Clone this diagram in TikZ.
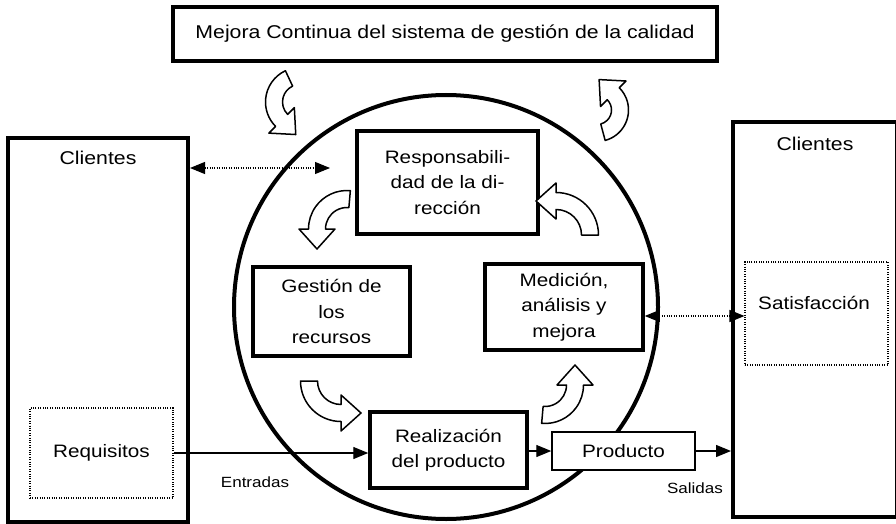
\documentclass[tikz,border=0pt]{standalone}
\usepackage{fontspec}
\setmainfont{Liberation Sans}[FakeStretch=1.15]
\usetikzlibrary{arrows.meta,calc}
\newcommand{\fsmain}{\fontsize{18}{25.5}\selectfont}
\newcommand{\fsbig}{\fontsize{18.5}{22}\selectfont}
\newcommand{\fssmall}{\fontsize{14.8}{18}\selectfont}
% curved hollow block arrow: cx, cy, R, start angle, end angle, sign (+1 angle grows, -1 angle falls)
\newcommand{\bentarrow}[6]{%
  \draw[barrow]
    ($(#1,#2)+(#4:{#3+8.5})$) arc[start angle=#4, end angle=#5, radius={#3+8.5}]
    -- ($(#1,#2)+(#5:{#3+18})$)
    -- ($(#1,#2)+(#5:#3)+({#5+#6*90}:20)$)
    -- ($(#1,#2)+(#5:{#3-18})$)
    -- ($(#1,#2)+(#5:{#3-8.5})$)
    arc[start angle=#5, end angle=#4, radius={#3-8.5}]
    -- cycle;}
\begin{document}
\begin{tikzpicture}[x=1pt,y=-1pt,
  bigbox/.style={draw, line width=4pt, inner sep=0pt},
  inbox/.style={draw, fill=white, line width=3.5pt, align=center, inner sep=0pt, font=\fsmain},
  dotbox/.style={draw, line width=1.1pt, dash pattern=on 1pt off 1.4pt, inner sep=0pt},
  conn/.style={line width=1.3pt, -{Triangle[length=15pt,width=12pt]}},
  dotconn/.style={line width=1.1pt, dash pattern=on 1pt off 1.4pt,
     {Triangle[length=15pt,width=12pt]}-{Triangle[length=15pt,width=12pt]}},
  barrow/.style={draw, fill=white, line width=1.5pt, line join=round}]
\fill[white] (0,0) rectangle (896,524);
\useasboundingbox (0,0) rectangle (896,524);

% top box
\node[bigbox, minimum width=544pt, minimum height=54pt, font=\fsbig] (top) at (445,34)
  {Mejora Continua del sistema de gestión de la calidad};

% client boxes
\node[bigbox, minimum width=180pt, minimum height=384pt] (lc) at (98,330) {};
\node[font=\fsbig] (lct) at (98,158) {Clientes};
\node[bigbox, minimum width=164pt, minimum height=395pt] (rc) at (815,319.5) {};
\node[font=\fsbig] (rct) at (815,144) {Clientes};

% circle
\node[circle, draw, line width=4pt, minimum size=424pt, inner sep=0pt] (circ) at (446,307) {};

% inner boxes
\node[inbox, minimum width=181pt, minimum height=103pt] (resp) at (447.5,182.5)
  {Responsabili-\\dad de la di-\\rección};
\node[inbox, minimum width=157pt, minimum height=89pt] (gest) at (331.5,311.5)
  {Gestión de\\los\\recursos};
\node[inbox, minimum width=158pt, minimum height=86pt] (med) at (564,307)
  {Medición,\\análisis y\\mejora};
\node[inbox, minimum width=157pt, minimum height=76pt] (real) at (448.5,450)
  {Realización\\del producto};
\node[draw, fill=white, line width=1.5pt, inner sep=0pt, minimum width=143pt, minimum height=38pt, font=\fsmain] (prod) at (623.5,451) {Producto};

% dotted boxes
\node[dotbox, minimum width=143pt, minimum height=90pt, font=\fsmain] (req) at (101.5,453) {Requisitos};
\node[dotbox, minimum width=143pt, minimum height=103pt] (sat) at (816.5,313.5) {};
\node[font=\fsmain] (satt) at (814,303) {Satisfacción};

% labels
\node[font=\fssmall] (entr) at (255,482) {Entradas};
\node[font=\fssmall] (sal) at (695,488) {Salidas};

% connectors
\coordinate (rq) at (173,453);
\draw[conn] (req.east |- rq) -- (real.west |- rq);
\draw[conn] (real.east |- prod.west) -- (prod.west);
\draw[conn] (prod.east) -- (rc.west |- prod.east);
\coordinate (d1) at (330,168);
\draw[dotconn] (lc.east |- d1) -- (d1);
\coordinate (d2) at (745,316);
\draw[dotconn] (med.east |- d2) -- (sat.west |- d2);

% curved block arrows
\bentarrow{300}{102}{26}{245}{135}{-1}
\bentarrow{597}{110}{23}{75}{-45}{-1}
\bentarrow{347}{229}{30}{275}{180}{-1}
\bentarrow{556}{235}{34}{0}{-90}{-1}
\bentarrow{341}{381}{32}{180}{90}{-1}
\bentarrow{545}{385}{30}{95}{0}{-1}
\end{tikzpicture}
\end{document}
